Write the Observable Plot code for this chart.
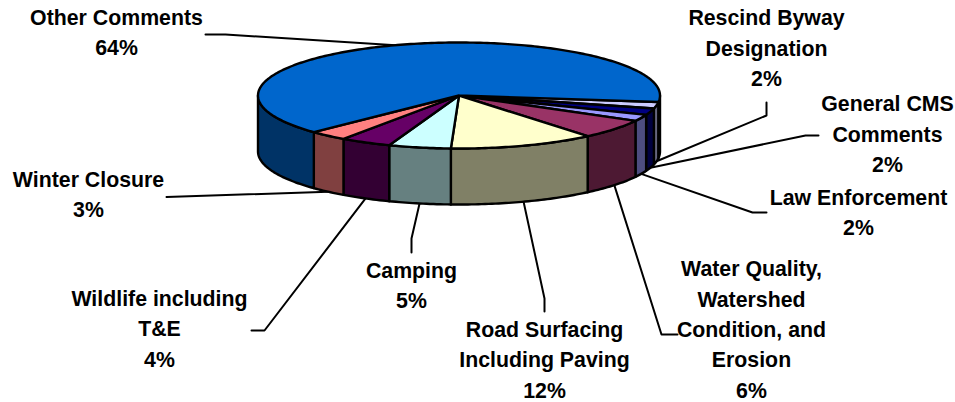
<!DOCTYPE html>
<html>
<head>
<meta charset="utf-8">
<style>html,body{margin:0;padding:0;background:#fff}svg{display:block}</style>
<script src="https://cdn.jsdelivr.net/npm/d3@7"></script>
<script src="https://cdn.jsdelivr.net/npm/@observablehq/plot@0.6"></script>
</head>
<body>
<div id="chart"></div>
<script>
// Data, clockwise from the right-hand edge of the pie
const categories = ["Rescind Byway\nDesignation","General CMS\nComments","Law Enforcement","Water Quality,\nWatershed\nCondition, and\nErosion","Road Surfacing\nIncluding Paving","Camping","Wildlife including\nT&E","Winter Closure","Other Comments"];
const values = [2,2,2,6,11.7,5,4.1,3.1,64.1];
const topColors = ["#CCCCFF","#000080","#9999FF","#993366","#FFFFCC","#CCFFFF","#660066","#FF8080","#0066CC"];
const wallColors = ["#666680","#000040","#4D4D80","#4D1933","#808066","#668080","#330033","#804040","#003366"];

// Layout of the drawing, in pixels
const labelX = [766,887,858,751,544,411,159,88,116];
const labelY = [48.5,134.5,212.5,329.8,360,285.5,329,194.5,33];
const elbowX = [[766,766],[818,805],[766,752],[677,661],[544,544],[411,411],[251,264],[166],[205,225]];
const elbowY = [[102,115],[135,135],[212,212],[334,334],[311,298],[252,238],[330,330],[196.5],[34,34]];
const cx = 458.5, cy = 95, rx = 201, ry = 53, depth = 56, startDeg = 7;

const rad = d => d * Math.PI / 180;
const px = t => cx + rx * Math.cos(rad(t));
const py = t => cy + ry * Math.sin(rad(t));
const arc = (a, b) => { const n = Math.max(2, Math.ceil(Math.abs(b - a))); return d3.range(n + 1).map(i => a + (b - a) * i / n); };

const total = d3.sum(values);
let acc = startDeg;
const slices = values.map((v, i) => { const a = acc; acc += v / total * 360; return {i, a, b: acc, mid: (a + acc) / 2}; });

const tops = [], walls = [], leaders = [];
for (const s of slices) {
  const pts = [{x: cx, y: cy}, ...arc(s.a, s.b).map(t => ({x: px(t), y: py(t)})), {x: cx, y: cy}];
  pts.forEach(p => tops.push({...p, key: "t" + s.i, color: topColors[s.i]}));
  // front-facing parts of the rim (0-180 degrees, also 360+)
  const spans = [[Math.max(s.a, 0), Math.min(s.b, 180)], [Math.max(s.a, 360), Math.min(s.b, 540)]];
  spans.forEach(([a, b], j) => {
    if (b <= a) return;
    const ts = arc(a, b);
    const poly = [...ts.map(t => ({x: px(t), y: py(t)})), ...ts.slice().reverse().map(t => ({x: px(t), y: py(t) + depth}))];
    poly.push(poly[0]);
    poly.forEach(p => walls.push({...p, key: "w" + s.i + "_" + j, color: wallColors[s.i]}));
  });
  const front = Math.sin(rad(s.mid)) > 0;
  const anchor = {x: px(s.mid), y: py(s.mid) + (front ? depth : 0)};
  const path = elbowX[s.i].map((x, k) => ({x, y: elbowY[s.i][k]}));
  [...path, anchor].forEach(p => leaders.push({...p, key: "l" + s.i}));
}
const labels = categories.map((c, i) => ({text: c + "\n" + Math.round(values[i]) + "%", x: labelX[i], y: labelY[i] - 3}));

const shape = {x: "x", y: "y", z: "key", curve: "linear", fill: "color", stroke: "#000", strokeWidth: 2.4, strokeLinejoin: "round"};
const chart = Plot.plot({
  width: 955, height: 402, margin: 0,
  x: {domain: [0, 955], range: [0, 955], axis: null},
  y: {domain: [0, 402], range: [0, 402], axis: null},
  color: {type: "identity"},
  style: {background: "#fff"},
  marks: [
    Plot.line(leaders, {x: "x", y: "y", z: "key", curve: "linear", stroke: "#000", strokeWidth: 2}),
    Plot.line(walls, shape),
    Plot.line(tops, shape),
    Plot.text(labels, {x: "x", y: "y", text: "text", textAnchor: "middle", lineAnchor: "middle", lineHeight: 1.425,
      fontFamily: "Liberation Sans, Arial, sans-serif", fontWeight: "bold", fontSize: 21.3, fill: "#000"})
  ]
});
document.getElementById("chart").appendChild(chart);
</script>
</body>
</html>
